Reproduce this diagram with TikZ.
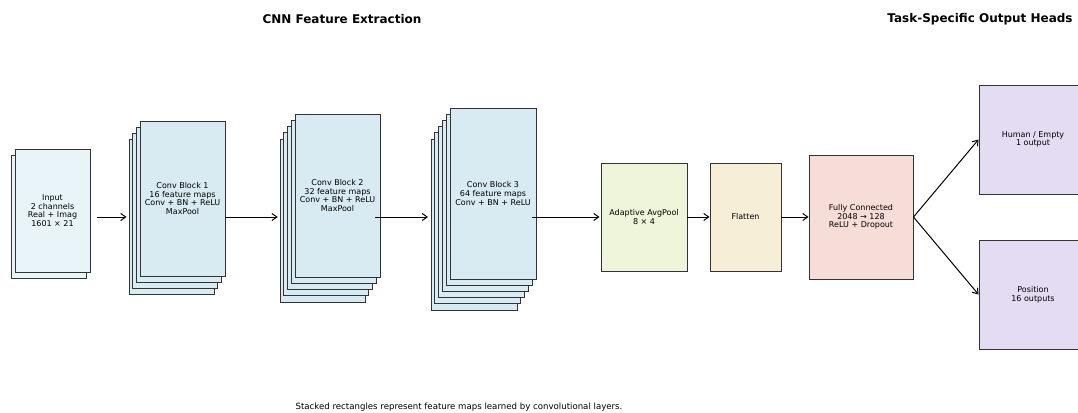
\documentclass[tikz,border=0pt]{standalone}
\usepackage{fontspec}
\setmainfont{DejaVu Sans}
\usetikzlibrary{arrows.meta}
\definecolor{cIn}{HTML}{E8F4F8}
\definecolor{cConv}{HTML}{D8EBF2}
\definecolor{cAvg}{HTML}{EEF5DA}
\definecolor{cFlat}{HTML}{F6EED6}
\definecolor{cFC}{HTML}{F6DDD8}
\definecolor{cOut}{HTML}{E4DCF2}
\begin{document}
\begin{tikzpicture}[x=1pt,y=-1pt,
  box/.style={draw=black!80, line width=0.9pt, rectangle, inner sep=0pt, align=center,
    font=\fontsize{8}{8.6}\selectfont},
  arr/.style={-{Straight Barb[length=5pt,width=7pt]}, line width=1pt},
  title/.style={font=\bfseries\fontsize{12}{14}\selectfont}]
\useasboundingbox (0,0) rectangle (1078,412);
\clip (0,0) rectangle (1078,412);
\fill[white] (0,0) rectangle (1078,412);

% Input
\node[box, fill=cIn, minimum width=75pt, minimum height=123pt] (in2) at (48.5,216.5) {};
\node[box, fill=cIn, minimum width=75pt, minimum height=123pt] (in) at (52.5,210.5) {Input\\2 channels\\Real + Imag\\1601 × 21};

% Conv Block 1
\foreach \k in {3,2,1}
  \node[box, fill=cConv, minimum width=85pt, minimum height=155pt] (b1l\k) at ({182.5-3.67*\k},{198.5+6*\k}) {};
\node[box, fill=cConv, minimum width=85pt, minimum height=155pt] (b1) at (182.5,198.5) {Conv Block 1\\16 feature maps\\Conv + BN + ReLU\\MaxPool};

% Conv Block 2
\foreach \k in {4,3,2,1}
  \node[box, fill=cConv, minimum width=85pt, minimum height=163pt] (b2l\k) at ({337.5-3.7*\k},{195.5+6.25*\k}) {};
\node[box, fill=cConv, minimum width=85pt, minimum height=163pt] (b2) at (337.5,195.5) {Conv Block 2\\32 feature maps\\Conv + BN + ReLU\\MaxPool};

% Conv Block 3
\foreach \k in {5,4,3,2,1}
  \node[box, fill=cConv, minimum width=86pt, minimum height=171pt] (b3l\k) at ({493-3.8*\k},{193.5+6.2*\k}) {};
\node[box, fill=cConv, minimum width=86pt, minimum height=171pt] (b3) at (493,193.5) {Conv Block 3\\64 feature maps\\Conv + BN + ReLU};

% Dense part
\node[box, fill=cAvg, minimum width=86pt, minimum height=108pt] (avg) at (644,217) {Adaptive AvgPool\\8 × 4};
\node[box, fill=cFlat, minimum width=71pt, minimum height=108pt] (flat) at (745.5,217) {Flatten};
\node[box, fill=cFC, minimum width=104pt, minimum height=124pt] (fc) at (861,217) {Fully Connected\\2048 → 128\\ReLU + Dropout};

% Output heads
\node[box, fill=cOut, minimum width=108pt, minimum height=109pt] (hum) at (1033,139.5) {Human / Empty\\1 output};
\node[box, fill=cOut, minimum width=108pt, minimum height=109pt] (pos) at (1033,294.5) {Position\\16 outputs};

% Arrows
\draw[arr, shorten <=7pt, shorten >=2pt] (in.east |- fc.west) -- (b1l3.west |- fc.west);
\draw[arr, shorten >=2pt] (b1.east |- fc.west) -- (b2l4.west |- fc.west);
\draw[arr, shorten <=-5pt, shorten >=2.5pt] (b2.east |- fc.west) -- (b3l5.west |- fc.west);
\draw[arr, shorten <=-4pt, shorten >=1pt] (b3.east |- fc.west) -- (avg.west);
\draw[arr] (avg.east) -- (flat.west);
\draw[arr] (flat.east) -- (fc.west);
\draw[arr] (fc.east) -- (hum.west);
\draw[arr] (fc.east) -- (pos.west);

% Titles and caption
\node[title] (t1) at (342,19) {CNN Feature Extraction};
\node[title] (t2) at (980,19) {Task-Specific Output Heads};
\node[font=\fontsize{8.6}{10}\selectfont] (cap) at (459,407) {Stacked rectangles represent feature maps learned by convolutional layers.};
\end{tikzpicture}
\end{document}
